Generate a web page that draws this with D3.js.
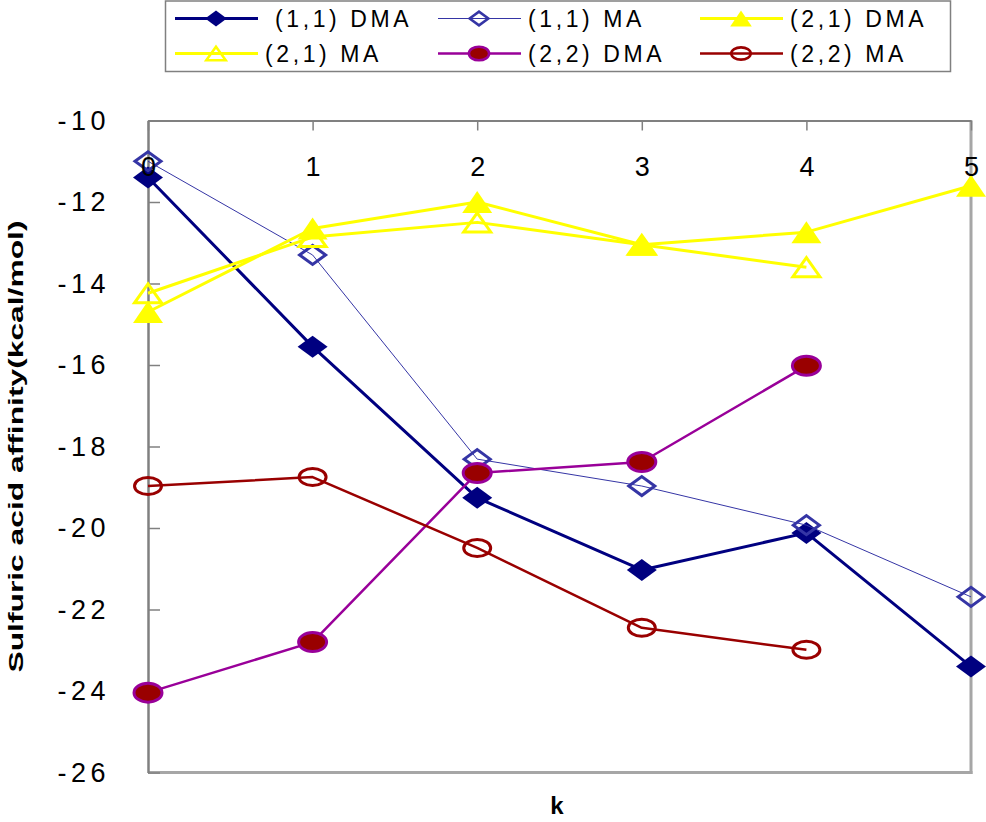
<!DOCTYPE html>
<html>
<head>
<meta charset="utf-8">
<script src="https://cdn.jsdelivr.net/npm/d3@7"></script>
<style>
  body { margin: 0; background: #fff; }
  text { font-family: "Liberation Sans", Arial, sans-serif; }
</style>
</head>
<body>
<svg id="chart"></svg>
<script>
const kValues = [0, 1, 2, 3, 4, 5];
const yTicks = [-10, -12, -14, -16, -18, -20, -22, -24, -26];

const dma11 = [-11.4, -15.55, -19.26, -21.03, -20.12, -23.4];
const ma11 = [-11.0, -13.3, -18.31, -18.97, -19.93, -21.69];
const dma21 = [-14.7, -12.65, -12.0, -13.05, -12.74, -11.6];
const ma21 = [-14.24, -12.86, -12.5, -13.05, -13.6];
const dma22 = [-24.04, -22.8, -18.65, -18.38, -16.02];
const ma22 = [-18.97, -18.75, -20.49, -22.45, -22.99];

const seriesNames = ['(1,1) DMA', '(1,1) MA', '(2,1) DMA', '(2,1) MA', '(2,2) DMA', '(2,2) MA'];

const width = 986;
const height = 822;
const margin = { top: 120.5, right: 15, bottom: 49.5, left: 148 };

const svg = d3.select('#chart').attr('width', width).attr('height', height);

const xScale = d3.scaleLinear().domain([0, 5]).range([margin.left, width - margin.right]);
const yScale = d3.scaleLinear().domain([-26, -10]).range([height - margin.bottom, margin.top]);

// marker shapes, stretched wider than tall like the original
function diamond(w, h) {
  return `M${-w},0L0,${-h}L${w},0L0,${h}Z`;
}
function triangle(w, h) {
  return `M0,${-h}L${w},${h}L${-w},${h}Z`;
}

const styles = [
  { data: dma11, line: '#000080', lw: 3, shape: 'diamond', fill: '#000080', stroke: 'none', sw: 0, w: 15, h: 11 },
  { data: ma11, line: '#3535a5', lw: 1, shape: 'diamond', fill: 'none', stroke: '#3535a5', sw: 3, w: 13, h: 9.5 },
  { data: dma21, line: '#ffff00', lw: 3, shape: 'triangle', fill: '#ffff00', stroke: 'none', sw: 0, w: 15, h: 11 },
  { data: ma21, line: '#ffff00', lw: 3, shape: 'triangle', fill: 'none', stroke: '#ffff00', sw: 3, w: 13.5, h: 9.5 },
  { data: dma22, line: '#990099', lw: 2.5, shape: 'circle', fill: '#990000', stroke: '#990099', sw: 3, w: 14, h: 9.5 },
  { data: ma22, line: '#990000', lw: 2.5, shape: 'circle', fill: 'none', stroke: '#990000', sw: 3, w: 13.5, h: 8.5 }
];

function drawMarker(g, s, scale) {
  const w = s.w * scale, h = s.h * scale;
  let m;
  if (s.shape === 'circle') {
    m = g.append('ellipse').attr('rx', w).attr('ry', h);
  } else if (s.shape === 'diamond') {
    m = g.append('path').attr('d', diamond(w, h));
  } else {
    m = g.append('path').attr('d', triangle(w, h));
  }
  m.attr('fill', s.fill).attr('stroke', s.stroke).attr('stroke-width', s.sw * (scale < 1 ? 0.85 : 1));
}

// plot border (right / bottom lighter)
svg.append('line')
  .attr('x1', xScale(5)).attr('x2', xScale(5))
  .attr('y1', margin.top).attr('y2', yScale(-26) + 1.5)
  .attr('stroke', '#a6a6a6').attr('stroke-width', 3);
svg.append('line')
  .attr('x1', margin.left).attr('x2', xScale(5) + 1.5)
  .attr('y1', yScale(-26)).attr('y2', yScale(-26))
  .attr('stroke', '#a6a6a6').attr('stroke-width', 3);

// left value axis, ticks pointing inward; plain hyphen for the minus sign
const yAxis = d3.axisLeft(yScale)
  .tickValues(yTicks)
  .tickSizeInner(-12)
  .tickSizeOuter(0)
  .tickPadding(38)
  .tickFormat(d => String(d));

const yG = svg.append('g')
  .attr('transform', `translate(${margin.left},0)`)
  .call(yAxis);
yG.select('.domain').attr('stroke', '#808080').attr('stroke-width', 2.5);
yG.selectAll('.tick line').attr('stroke', '#808080').attr('stroke-width', 1.5);
yG.selectAll('.tick text')
  .attr('font-size', 27)
  .attr('letter-spacing', 4.5)
  .attr('fill', '#000')
  .style('font-family', '"Liberation Sans", Arial, sans-serif');

// series
const line = d3.line().x((d, i) => xScale(kValues[i])).y(d => yScale(d));

const seriesG = svg.append('g');
styles.forEach(s => {
  seriesG.append('path')
    .datum(s.data)
    .attr('fill', 'none')
    .attr('stroke', s.line)
    .attr('stroke-width', s.lw)
    .attr('stroke-linejoin', 'round')
    .attr('d', line);
  s.data.forEach((v, i) => {
    const g = seriesG.append('g').attr('transform', `translate(${xScale(kValues[i])},${yScale(v)})`);
    drawMarker(g, s, 1);
  });
});

// category axis sits on the top edge at -10, labels below it
const xAxis = d3.axisBottom(xScale)
  .tickValues(kValues)
  .tickSizeInner(10)
  .tickSizeOuter(0)
  .tickPadding(26)
  .tickFormat(d3.format('d'));

const xG = svg.append('g')
  .attr('transform', `translate(0,${yScale(-10)})`)
  .call(xAxis);
xG.select('.domain').attr('stroke', '#808080').attr('stroke-width', 2);
xG.selectAll('.tick line').attr('stroke', '#808080').attr('stroke-width', 1.5);
xG.selectAll('.tick text')
  .attr('font-size', 27)
  .attr('fill', '#000')
  .style('font-family', '"Liberation Sans", Arial, sans-serif');

// axis titles
svg.append('text')
  .attr('transform', `translate(23,${(margin.top + yScale(-26)) / 2}) rotate(-90)`)
  .attr('text-anchor', 'middle')
  .attr('font-size', 21)
  .attr('font-weight', 'bold')
  .attr('textLength', 452)
  .attr('lengthAdjust', 'spacingAndGlyphs')
  .text('Sulfuric acid affinity(kcal/mol)');

svg.append('text')
  .attr('x', 557)
  .attr('y', 814)
  .attr('text-anchor', 'middle')
  .attr('font-size', 24)
  .attr('font-weight', 'bold')
  .text('k');

// legend
const legend = svg.append('g');
legend.append('rect')
  .attr('x', 165.5).attr('y', 1)
  .attr('width', 785).attr('height', 70.5)
  .attr('fill', '#fff')
  .attr('stroke', '#808080')
  .attr('stroke-width', 1.5);

const legendCols = [175, 438, 700];
const legendRows = [18.5, 53.5];

styles.forEach((s, i) => {
  const col = i % 3;
  const row = Math.floor(i / 3);
  const x0 = legendCols[col];
  const y0 = legendRows[row];
  const item = legend.append('g').attr('transform', `translate(${x0},${y0})`);
  item.append('line')
    .attr('x1', 0).attr('x2', 83)
    .attr('stroke', s.line)
    .attr('stroke-width', s.lw);
  const mg = item.append('g').attr('transform', 'translate(41,0)');
  drawMarker(mg, s, 0.72);
  item.append('text')
    .attr('x', i === 0 ? 100 : 90)
    .attr('y', 8.5)
    .attr('font-size', 23)
    .attr('letter-spacing', 3.6)
    .attr('fill', '#000')
    .text(seriesNames[i]);
});
</script>
</body>
</html>
